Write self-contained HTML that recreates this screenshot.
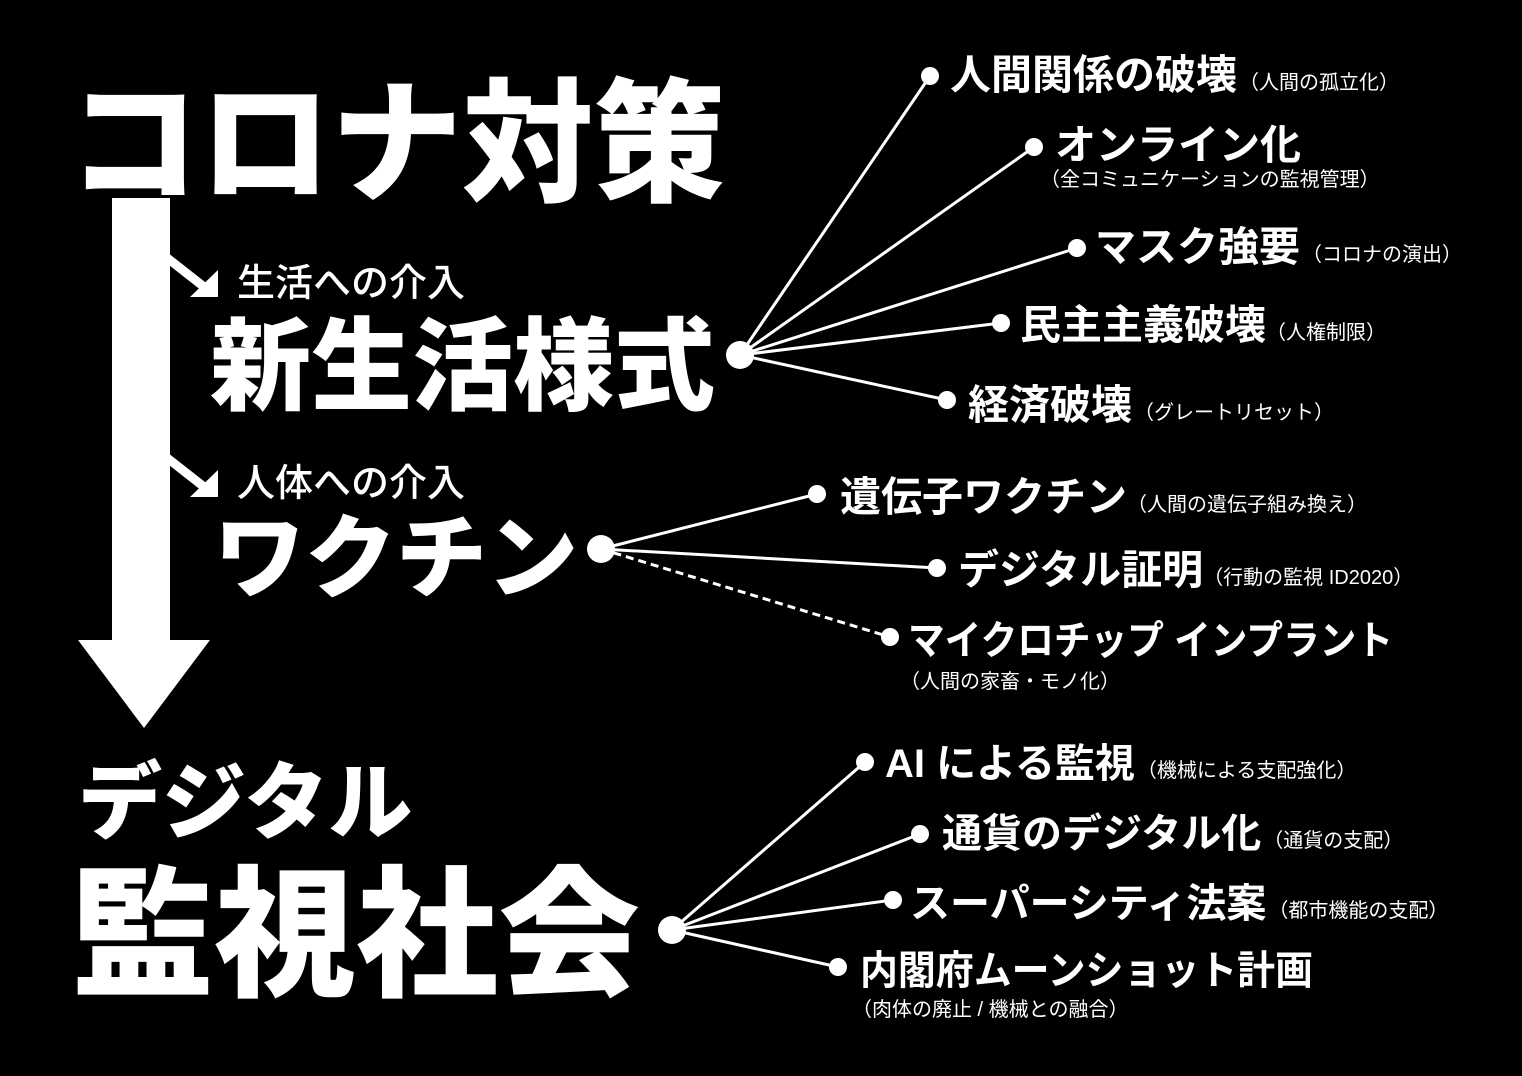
<!DOCTYPE html>
<html><head><meta charset="utf-8"><style>
html,body{margin:0;padding:0;background:#000;}
svg{display:block}
text{font-family:"Liberation Sans","Noto Sans CJK JP",sans-serif;fill:#fff;font-weight:900;}
.m{font-weight:700}
.s{font-size:20px;font-weight:400}
</style></head><body>
<svg width="1522" height="1076" viewBox="0 0 1522 1076" xmlns="http://www.w3.org/2000/svg">
<rect width="1522" height="1076" fill="#000"/>
<rect x="112" y="198" width="58" height="445" fill="#fff"/>
<polygon points="78,640 210,640 144,728" fill="#fff"/>
<g stroke="#fff" stroke-width="9" fill="none">
<line x1="157" y1="250" x2="208" y2="290"/>
<line x1="157" y1="450" x2="208" y2="490"/>
</g>
<polygon points="190,297 218,297 218,270" fill="#fff"/>
<polygon points="190,497 218,497 218,470" fill="#fff"/>
<text x="68" y="191" font-size="134" textLength="657" lengthAdjust="spacingAndGlyphs">コロナ対策</text>
<text x="237" y="296" font-size="38" style="font-weight:500">生活への介入</text>
<text x="210" y="402" font-size="101">新生活様式</text>
<text x="237" y="496" font-size="38" style="font-weight:500">人体への介入</text>
<text x="214" y="590" font-size="91">ワクチン</text>
<text x="78" y="832" font-size="84">デジタル</text>
<text x="72" y="985" font-size="142">監視社会</text>
<g stroke="#fff" stroke-width="3">
<line x1="740" y1="355" x2="930" y2="76"/>
<line x1="740" y1="355" x2="1034" y2="147"/>
<line x1="740" y1="355" x2="1077" y2="248"/>
<line x1="740" y1="355" x2="1001" y2="323"/>
<line x1="740" y1="355" x2="947" y2="400"/>
<line x1="601" y1="549" x2="817" y2="494"/>
<line x1="601" y1="549" x2="937" y2="568"/>
<line x1="601" y1="549" x2="890" y2="637" stroke-dasharray="8,5"/>
<line x1="672" y1="930" x2="865" y2="762"/>
<line x1="672" y1="930" x2="920" y2="834"/>
<line x1="672" y1="930" x2="893" y2="900"/>
<line x1="672" y1="930" x2="838" y2="967"/>
</g>
<g fill="#fff">
<circle cx="740" cy="355" r="14"/><circle cx="601" cy="549" r="14"/><circle cx="672" cy="930" r="14"/>
<circle cx="930" cy="76" r="9"/><circle cx="1034" cy="147" r="9"/><circle cx="1077" cy="248" r="9"/>
<circle cx="1001" cy="323" r="9"/><circle cx="947" cy="400" r="9"/>
<circle cx="817" cy="494" r="9"/><circle cx="937" cy="568" r="9"/><circle cx="890" cy="637" r="9"/>
<circle cx="865" cy="762" r="9"/><circle cx="920" cy="834" r="9"/><circle cx="893" cy="900" r="9"/><circle cx="838" cy="967" r="9"/>
</g>
<text x="950" y="89" font-size="41" class="m">人間関係の破壊<tspan class="s" dx="2">（人間の孤立化）</tspan></text>
<text x="1055" y="159" font-size="41" class="m">オンライン化</text>
<text x="1040" y="186" class="s">（全コミュニケーションの監視管理）</text>
<text x="1095" y="261" font-size="41" class="m">マスク強要<tspan class="s" dx="2">（コロナの演出）</tspan></text>
<text x="1020" y="339" font-size="41" class="m">民主主義破壊<tspan class="s" dx="0">（人権制限）</tspan></text>
<text x="968" y="419" font-size="41" class="m">経済破壊<tspan class="s" dx="2">（グレートリセット）</tspan></text>
<text x="840" y="511" font-size="41" class="m">遺伝子ワクチン<tspan class="s" dx="0">（人間の遺伝子組み換え）</tspan></text>
<text x="958" y="584" font-size="41" class="m">デジタル証明<tspan class="s" dx="0">（行動の監視 ID2020）</tspan></text>
<text x="908" y="654" font-size="40" class="m" textLength="485" lengthAdjust="spacingAndGlyphs">マイクロチップ インプラント</text>
<text x="900" y="688" class="s">（人間の家畜・モノ化）</text>
<text x="885" y="777" font-size="40" class="m">AI による監視<tspan class="s" dx="2">（機械による支配強化）</tspan></text>
<text x="942" y="847" font-size="40" class="m">通貨のデジタル化<tspan class="s" dx="2">（通貨の支配）</tspan></text>
<text x="910" y="917" font-size="40" class="m">スーパーシティ法案<tspan class="s" dx="2">（都市機能の支配）</tspan></text>
<text x="860" y="984" font-size="40" class="m" textLength="453" lengthAdjust="spacingAndGlyphs">内閣府ムーンショット計画</text>
<text x="852" y="1016" class="s">（肉体の廃止 / 機械との融合）</text>
</svg>
</body></html>
